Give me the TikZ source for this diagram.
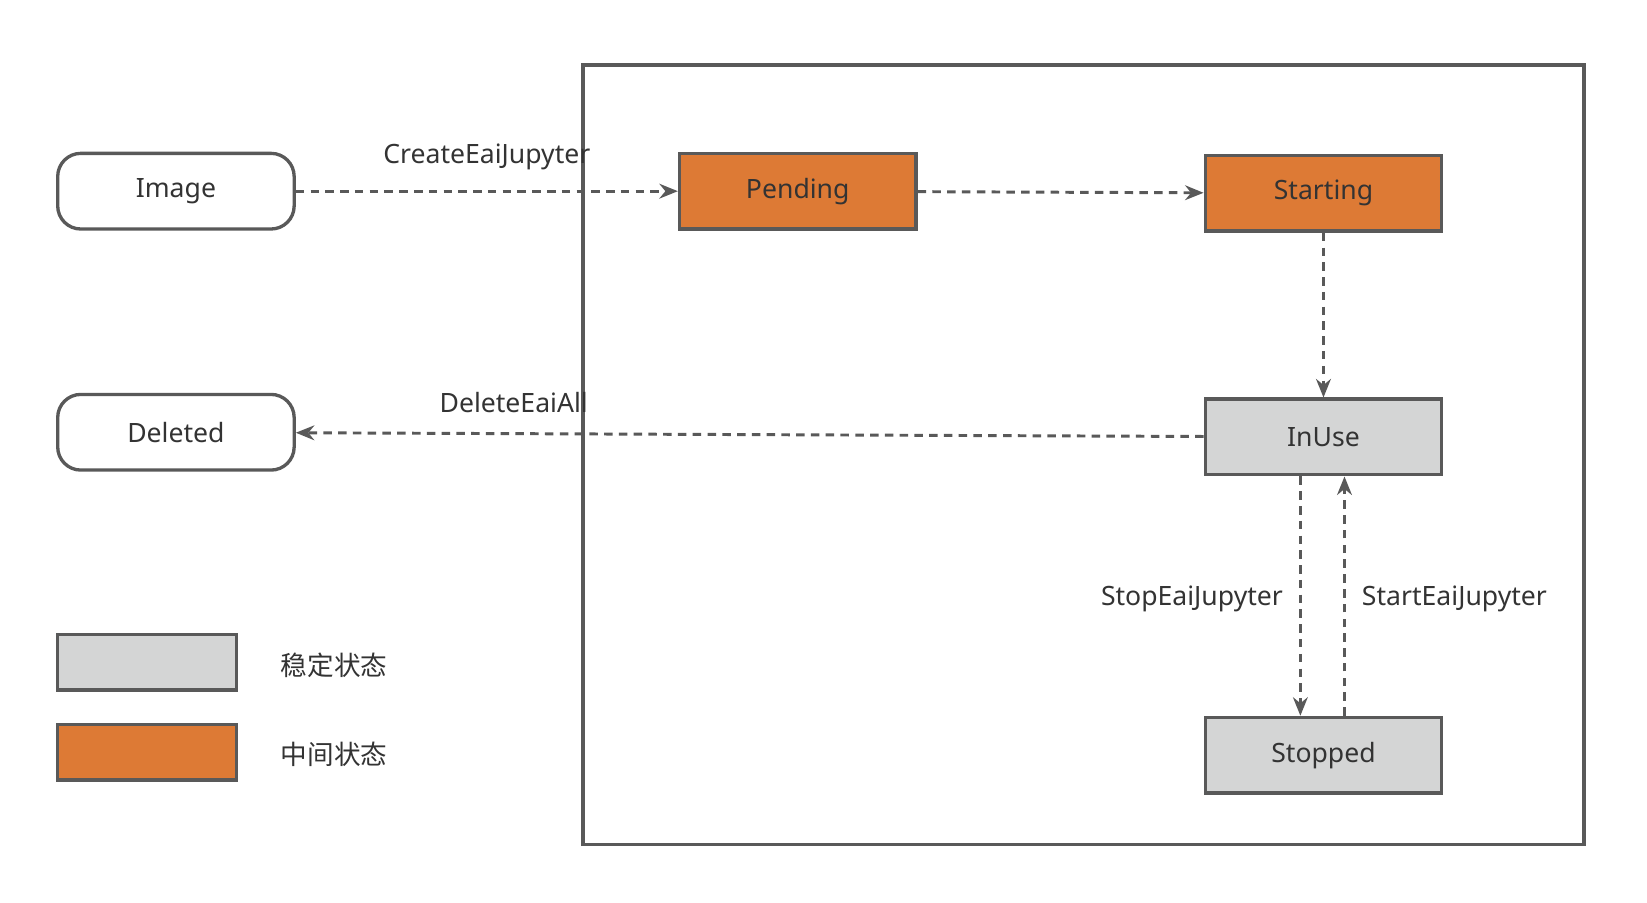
\documentclass[tikz,border=0pt]{standalone}
\usepackage{fontspec}
\setmainfont{Noto Sans}
\newfontfamily\cjk{Noto Sans CJK SC}
\usetikzlibrary{arrows.meta}
\definecolor{ln}{HTML}{595959}
\definecolor{og}{HTML}{DD7A35}
\definecolor{gy}{HTML}{D4D5D5}
\begin{document}
\begin{tikzpicture}[x=0.01cm,y=-0.01cm,
  box/.style={draw=ln,line width=0.9pt,minimum width=2.25cm,minimum height=0.72cm,font=\fontsize{7.2}{8}\selectfont,text=black!80},
  st/.style={box,rounded corners=2.2mm,fill=white},
  org/.style={box,fill=og},
  gry/.style={box,fill=gy},
  ar/.style={draw=ln,line width=0.8pt,dash pattern=on 2.3pt off 1.7pt,-{Stealth[length=5pt,width=4pt]}},
  lb/.style={font=\fontsize{7.2}{8}\selectfont,text=black!80}]
\useasboundingbox (0,0) rectangle (1568,859);
\draw[ln,line width=0.9pt] (555,62) rectangle (1508,804);
\node[st] (image) at (167.5,182) {Image};
\node[st] (deleted) at (167.5,411.5) {Deleted};
\node[org] (pending) at (759.5,182) {Pending};
\node[org] (starting) at (1260,184) {Starting};
\node[gry] (inuse) at (1260,416) {InUse};
\node[gry] (stopped) at (1260,719) {Stopped};
\node[gry,minimum width=1.7cm,minimum height=0.53cm] (lg1) at (140,630.5) {};
\node[org,minimum width=1.7cm,minimum height=0.53cm] (lg2) at (140,716) {};
\node[lb,anchor=west,font=\cjk\fontsize{7.2}{8}\selectfont] (t1) at (255,633) {稳定状态};
\node[lb,anchor=west,font=\cjk\fontsize{7.2}{8}\selectfont] (t2) at (255,718) {中间状态};
\draw[ar] (image) -- node[lb,above=2pt] (c1) {CreateEaiJupyter} (pending);
\draw[ar] (pending) -- (starting);
\draw[ar] (starting) -- (inuse);
\draw[ar] (inuse) -- node[lb,pos=0.76,above=2pt] (c2) {DeleteEaiAll} (deleted);
\draw[ar] (inuse.south -| 1238,0) -- node[lb,left=1pt,pos=0.51] (c3) {StopEaiJupyter} (stopped.north -| 1238,0);
\draw[ar] (stopped.north -| 1280,0) -- node[lb,right=1pt,pos=0.49] (c4) {StartEaiJupyter} (inuse.south -| 1280,0);
\end{tikzpicture}
\end{document}
